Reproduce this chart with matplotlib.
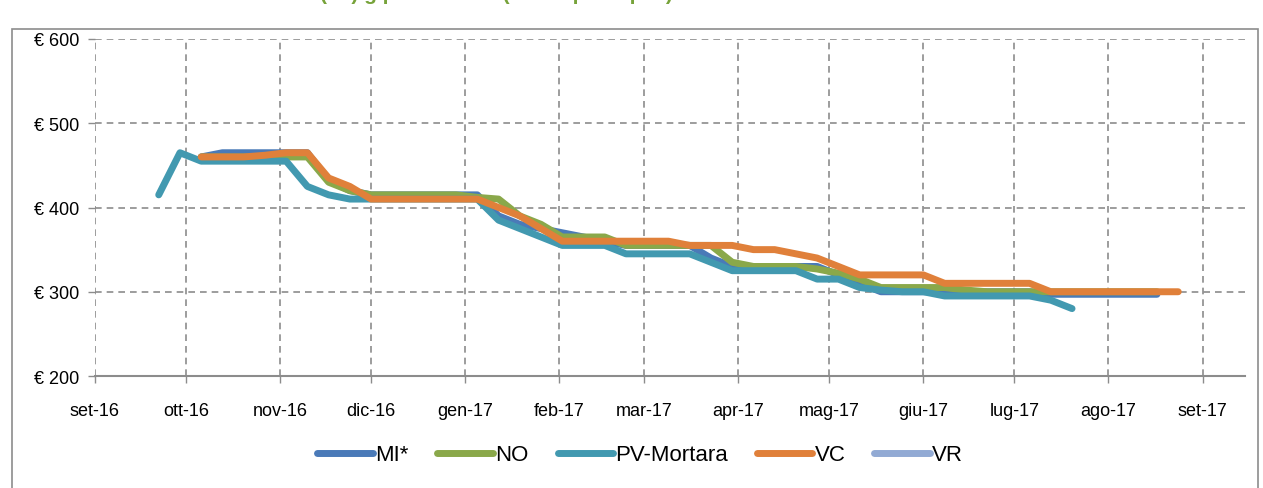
import matplotlib
matplotlib.use("Agg")
import matplotlib.pyplot as plt
import numpy as np
import pandas as pd
from matplotlib.patches import Rectangle

plt.rcParams["font.family"] = ["Liberation Sans Narrow", "Liberation Sans", "DejaVu Sans"]

# weekly quotations, 22 Sep 2016 -> 24 Aug 2017
dates = pd.date_range("2016-09-22", periods=49, freq="7D")
nan = np.nan

mi = [nan, nan, 460, 465, 465, 465, 465, 465, 432, 420,
      415, 415, 415, 415, 415, 415, 390, 380, 375, 370,
      365, 360, 355, 355, 355, 355, 340, 330, 330, 330,
      330, 330, 320, 310, 300, 300, 300, 300, 300, 300,
      300, 300, 297, 297, 297, 297, 297, 297, nan]
no = [nan, nan, 460, 460, 460, 460, 460, 460, 430, 420,
      415, 415, 415, 415, 415, 412, 410, 390, 380, 365,
      365, 365, 355, 355, 355, 355, 355, 335, 330, 330,
      330, 327, 322, 315, 305, 305, 305, 305, 302, 300,
      300, 300, 300, 300, 300, 300, 300, 300, nan]
pv = [415, 465, 455, 455, 455, 455, 455, 425, 415, 410,
      410, 410, 410, 410, 410, 410, 385, 375, 365, 355,
      355, 355, 345, 345, 345, 345, 335, 325, 325, 325,
      325, 315, 315, 305, 302, 300, 300, 295, 295, 295,
      295, 295, 290, 280, nan, nan, nan, nan, nan]
vc = [nan, nan, 460, 460, 460, 462, 465, 465, 435, 425,
      410, 410, 410, 410, 410, 410, 400, 390, 375, 360,
      360, 360, 360, 360, 360, 355, 355, 355, 350, 350,
      345, 340, 330, 320, 320, 320, 320, 310, 310, 310,
      310, 310, 300, 300, 300, 300, 300, 300, 300]
vr = [nan] * 49

series = [("MI*", mi, "#4a7ab8"), ("NO", no, "#8aa84a"), ("PV-Mortara", pv, "#4299b0"),
          ("VC", vc, "#e0803a"), ("VR", vr, "#92aad4")]

months = pd.date_range("2016-09-01", "2017-09-01", freq="MS")
month_labels = ["set-16", "ott-16", "nov-16", "dic-16", "gen-17", "feb-17", "mar-17",
                "apr-17", "mag-17", "giu-17", "lug-17", "ago-17", "set-17"]
y_ticks = [200, 300, 400, 500, 600]

W, H = 1263, 489
fig = plt.figure(figsize=(W / 100, H / 100), dpi=100)
ax = fig.add_axes([95 / W, 1 - 377 / H, (1245 - 95) / W, (377 - 40) / H])

# outer chart frame
fig.patches.append(Rectangle((12 / W, -0.05), (1258 - 12) / W, 1 - 30 / H + 0.05,
                             transform=fig.transFigure, fill=False, ec="#8c8c8c", lw=1.2))
fig.text(0.34, 1.012, "Prezzi risone (€/t) g/prezzi medi (borse principali)", color="#77a33a",
         fontsize=15, fontweight="bold", ha="center", va="center")

for name, vals, col in series:
    ax.plot(dates, vals, color=col, lw=5, label=name, solid_capstyle="round", solid_joinstyle="round")

ax.set_xlim(pd.Timestamp("2016-09-01"), pd.Timestamp("2016-09-01") + pd.Timedelta(days=379))
ax.set_ylim(200, 600)
ax.set_xticks(months)
ax.set_xticklabels(month_labels, fontsize=13)
ax.set_yticks(y_ticks)
ax.set_yticklabels([f"€ {v}" for v in y_ticks], fontsize=13)
ax.grid(True, color="#8c8c8c", ls=(0, (4, 3)), lw=1.2)
ax.set_axisbelow(True)
for s in ["top", "right", "left"]:
    ax.spines[s].set_visible(False)
ax.spines["bottom"].set_color("#8c8c8c")
ax.spines["bottom"].set_linewidth(1.5)
ax.tick_params(axis="both", color="#8c8c8c", length=5, width=1)
ax.tick_params(axis="x", pad=14)
ax.tick_params(axis="y", pad=6)

fig.legend(loc="center", bbox_to_anchor=(0.507, 1 - 456 / H), ncol=5, frameon=False,
           fontsize=16, handlelength=2.5, handletextpad=0.1, columnspacing=1.3)

fig.savefig("out.png", dpi=100)
